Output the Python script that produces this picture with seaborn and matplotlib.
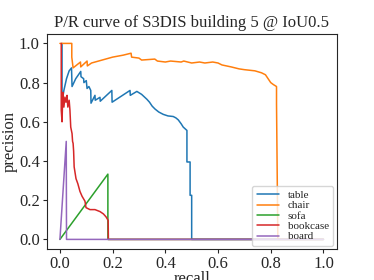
import pandas as pd
import matplotlib
matplotlib.use("Agg")
import matplotlib.pyplot as plt
import seaborn as sns

# class names in legend order
classes = ["table", "chair", "sofa", "bookcase", "board"]
colors = ["#1f77b4", "#ff7f0e", "#2ca02c", "#d62728", "#9467bd"]

# recall / precision points
table_recall = [0.008, 0.008, 0.015, 0.025, 0.035, 0.044, 0.046, 0.06, 0.079, 0.08, 0.09, 0.091,
                0.10, 0.103, 0.11, 0.117, 0.118, 0.133, 0.134, 0.152, 0.153, 0.197, 0.198, 0.266,
                0.267, 0.292, 0.31, 0.33, 0.34, 0.35, 0.361, 0.375, 0.392, 0.41, 0.43, 0.44, 0.449,
                0.46, 0.468, 0.482, 0.482, 0.494, 0.494, 0.50, 0.50, 1.0]
table_precision = [1.0, 0.70, 0.76, 0.82, 0.86, 0.875, 0.78, 0.82, 0.857, 0.83, 0.82, 0.80,
                   0.81, 0.77, 0.78, 0.76, 0.695, 0.735, 0.71, 0.725, 0.705, 0.76, 0.70, 0.76,
                   0.735, 0.755, 0.74, 0.715, 0.70, 0.68, 0.665, 0.65, 0.638, 0.63, 0.627, 0.62, 0.61,
                   0.59, 0.573, 0.556, 0.395, 0.395, 0.225, 0.225, 0.0, 0.0]

chair_recall = [0.0, 0.045, 0.045, 0.05, 0.078, 0.079, 0.103, 0.104, 0.12, 0.16, 0.20, 0.24, 0.27,
                0.272, 0.30, 0.31, 0.36, 0.37, 0.40, 0.42, 0.46, 0.47, 0.50, 0.53, 0.55, 0.58,
                0.60, 0.615, 0.65, 0.68, 0.70, 0.74, 0.765, 0.78, 0.79, 0.80, 0.81, 0.822, 0.822,
                0.827, 1.0]
chair_precision = [1.0, 1.0, 0.93, 0.875, 0.905, 0.88, 0.91, 0.885, 0.90, 0.915, 0.93, 0.94, 0.95,
                   0.93, 0.925, 0.915, 0.92, 0.91, 0.905, 0.91, 0.905, 0.91, 0.90, 0.905, 0.90, 0.905,
                   0.90, 0.89, 0.88, 0.87, 0.866, 0.86, 0.85, 0.84, 0.82, 0.80, 0.79, 0.78, 0.69,
                   0.0, 0.0]

sofa_recall = [0.0, 0.182, 0.182, 1.0]
sofa_precision = [0.0, 0.333, 0.0, 0.0]

bookcase_recall = [0.005, 0.005, 0.008, 0.011, 0.015, 0.019, 0.023, 0.027, 0.030, 0.035, 0.038,
                   0.041, 0.046, 0.048, 0.050, 0.052, 0.054, 0.061, 0.068, 0.076, 0.084, 0.095,
                   0.099, 0.114, 0.133, 0.152, 0.165, 0.175, 0.183, 0.184, 1.0]
bookcase_precision = [1.0, 0.66, 0.60, 0.75, 0.675, 0.726, 0.70, 0.735, 0.675, 0.71, 0.66,
                      0.573, 0.54, 0.50, 0.49, 0.45, 0.37, 0.31, 0.284, 0.245, 0.22, 0.195,
                      0.162, 0.152, 0.152, 0.142, 0.13, 0.115, 0.097, 0.0, 0.0]

board_recall = [0.0, 0.024, 0.025, 1.0]
board_precision = [0.0, 0.5, 0.0, 0.0]

frames = []
for name, r, p in [("table", table_recall, table_precision),
                   ("chair", chair_recall, chair_precision),
                   ("sofa", sofa_recall, sofa_precision),
                   ("bookcase", bookcase_recall, bookcase_precision),
                   ("board", board_recall, board_precision)]:
    frames.append(pd.DataFrame({"recall": r, "precision": p, "class": name}))
df = pd.concat(frames, ignore_index=True)

sns.set_style("ticks")
plt.rcParams["font.family"] = ["Liberation Serif", "DejaVu Serif"]

fig, ax = plt.subplots(figsize=(3.74, 2.8), dpi=100)
fig.subplots_adjust(left=0.125, right=0.9, bottom=0.11, top=0.88)

sns.lineplot(data=df, x="recall", y="precision", hue="class", hue_order=classes,
             palette=colors, sort=False, estimator=None, linewidth=1.1, ax=ax)

ax.set_xlim(-0.05, 1.05)
ax.set_ylim(-0.05, 1.05)
ax.set_xticks([0.0, 0.2, 0.4, 0.6, 0.8, 1.0])
ax.set_yticks([0.0, 0.2, 0.4, 0.6, 0.8, 1.0])
ax.tick_params(labelsize=12, length=3, width=0.8, pad=2)
ax.set_xlabel("recall", fontsize=12, labelpad=-1)
ax.set_ylabel("precision", fontsize=12, labelpad=1)
ax.set_title("P/R curve of S3DIS building 5 @ IoU0.5", fontsize=12, pad=5)
for s in ax.spines.values():
    s.set_visible(True)
    s.set_linewidth(0.8)

sns.move_legend(ax, "lower right", title=None, fontsize=8, labelspacing=0.05,
                handlelength=2.0, borderaxespad=0.3)

fig.savefig("out.png", dpi=100)
